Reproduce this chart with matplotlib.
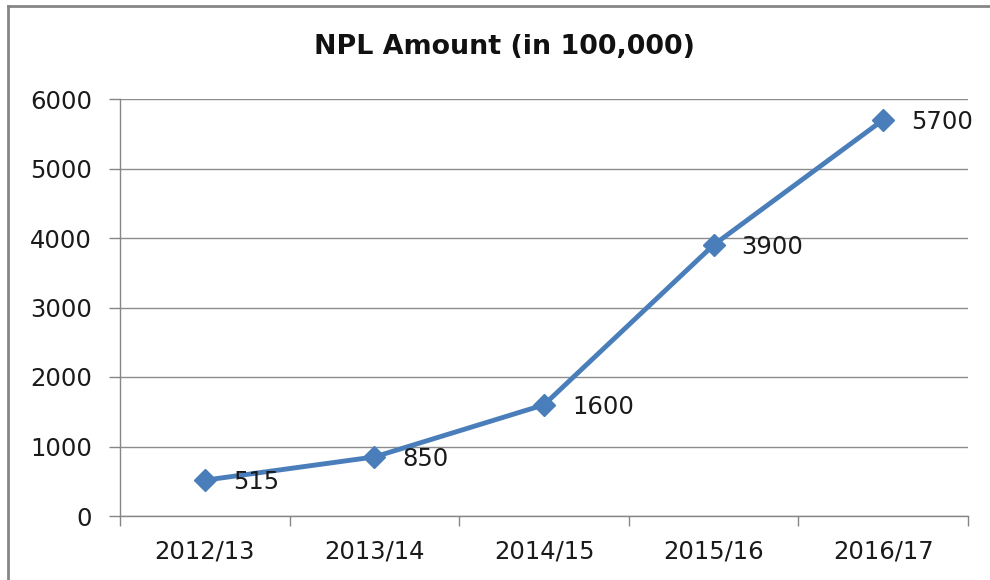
import matplotlib
matplotlib.use("Agg")
import matplotlib.pyplot as plt
from matplotlib.lines import Line2D

categories = ["2012/13", "2013/14", "2014/15", "2015/16", "2016/17"]
values = [515, 850, 1600, 3900, 5700]
yticks = [0, 1000, 2000, 3000, 4000, 5000, 6000]
title = "NPL Amount (in 100,000)"

plt.rcParams['font.family'] = ['DejaVu Sans']

W, H = 990, 580
fig = plt.figure(figsize=(W / 100, H / 100), dpi=100)
ax = fig.add_axes([120 / W, 1 - 516 / H, (968 - 120) / W, (516 - 99) / H])

x = list(range(len(categories)))
color = "#4A7EBB"
ax.plot(x, values, color=color, lw=3.5, marker="D", markersize=11.5,
        markeredgecolor=color, markerfacecolor=color, zorder=3, clip_on=False)
for xi, v in zip(x, values):
    ax.annotate(str(v), (xi, v), xytext=(28, -2), textcoords="offset pixels",
                ha="left", va="center", fontsize=17.5, color="#1a1a1a")

ax.set_xlim(-0.5, len(categories) - 0.5)
ax.set_ylim(0, 6000)
ax.set_yticks(yticks)
ax.set_yticklabels([str(t) for t in yticks])
ax.set_xticks([i - 0.5 for i in range(len(categories) + 1)], minor=False)
ax.set_xticklabels([])
ax.set_xticks(x, minor=True)
ax.set_xticklabels(categories, minor=True)
ax.tick_params(axis="x", which="minor", length=0, pad=17, labelsize=17.5, labelcolor="#1a1a1a")
ax.tick_params(axis="x", which="major", length=7, direction="out", color="#868686", width=1)
ax.tick_params(axis="y", length=8, direction="out", color="#868686", width=1,
               labelsize=17.5, labelcolor="#1a1a1a", pad=12)
ax.grid(axis="y", color="#8c8c8c", lw=1)
ax.set_axisbelow(True)
for s in ["top", "right"]:
    ax.spines[s].set_visible(False)
for s in ["left", "bottom"]:
    ax.spines[s].set_color("#868686")
    ax.spines[s].set_linewidth(1)

fig.text(504 / W, 1 - 47 / H, title, ha="center", va="center", fontsize=19.4,
         fontweight="bold", color="#111111")

# frame: only top and left edges visible in the reference
fig.add_artist(Line2D([8 / W, 8 / W], [0, 1 - 6 / H], transform=fig.transFigure,
                      color="#868686", lw=2))
fig.add_artist(Line2D([8 / W, 1], [1 - 6 / H, 1 - 6 / H], transform=fig.transFigure,
                      color="#868686", lw=2))

fig.savefig("out.png", dpi=100, facecolor="white")
